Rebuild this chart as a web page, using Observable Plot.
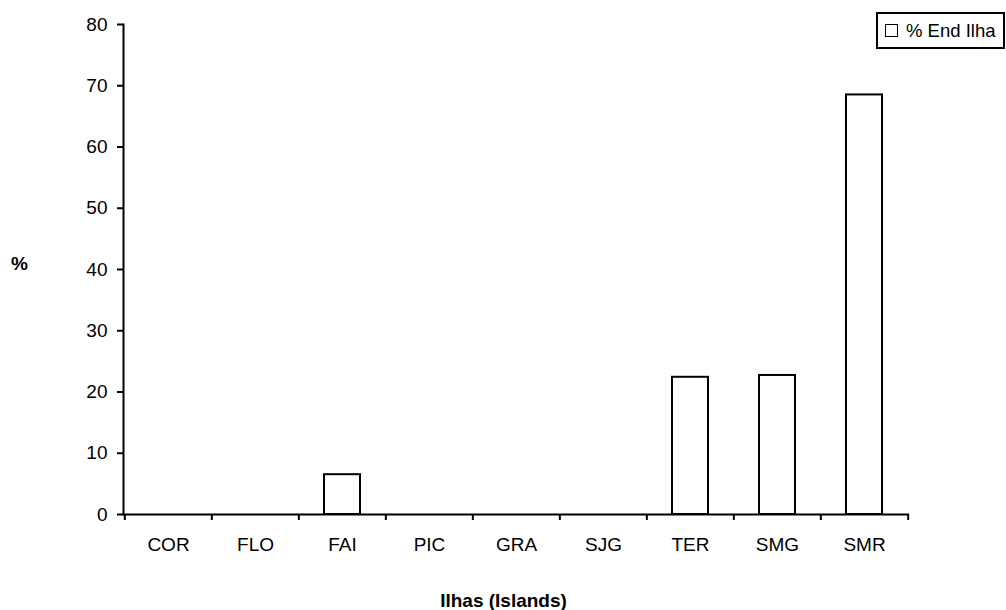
<!DOCTYPE html>
<html>
<head>
<meta charset="utf-8">
<script src="https://cdn.jsdelivr.net/npm/d3@7"></script>
<script src="https://cdn.jsdelivr.net/npm/@observablehq/plot@0.6"></script>
<style>
  html, body { margin: 0; padding: 0; background: #fff; }
  #wrap { position: relative; width: 1006px; height: 610px; font-family: "Liberation Sans", Arial, sans-serif; }
  #legend { position: absolute; left: 876px; top: 12px; width: 125px; height: 33px; border: 2px solid #000; background: #fff;
            display: flex; align-items: center; font-size: 18.5px; color: #000; }
  #legend .sw { width: 11px; height: 11px; border: 1.5px solid #000; margin-left: 7px; margin-right: 8px; background: #fff; }
</style>
</head>
<body>
<div id="wrap">
  <div id="chart"></div>
  <div id="legend"><div class="sw"></div><span id="legtext"></span></div>
</div>
<script>
const islands = ["COR", "FLO", "FAI", "PIC", "GRA", "SJG", "TER", "SMG", "SMR"];
const pctEndIlha = [0, 0, 6.5, 0, 0, 0, 22.4, 22.7, 68.5];
const yTicks = [0, 10, 20, 30, 40, 50, 60, 70, 80];
const seriesName = "% End Ilha";
const xTitle = "Ilhas (Islands)";
const yTitle = "%";

const data = islands.map((d, i) => ({island: d, value: pctEndIlha[i]}));

const W = 1006, H = 610, ML = 123, MR = 97, MT = 24, MB = 96;
const step = (W - ML - MR) / islands.length;

const chart = Plot.plot({
  width: W, height: H,
  marginLeft: ML, marginRight: MR, marginTop: MT, marginBottom: MB,
  style: {fontFamily: "'Liberation Sans', Arial, sans-serif", fontSize: "19px", color: "#000", background: "#fff"},
  x: {domain: islands, paddingInner: 0.59, paddingOuter: 0.295, label: null},
  y: {domain: [0, 80], label: null},
  marks: [
    Plot.barY(data, {x: "island", y: "value", fill: "#fff", stroke: "#000", strokeWidth: 2}),
    Plot.axisY({ticks: yTicks, tickSize: 6, tickPadding: 10, strokeWidth: 2, fontSize: 19, label: null}),
    Plot.axisX({tickSize: 0, tickPadding: 23, fontSize: 19, label: null}),
    Plot.frame({anchor: "left", strokeWidth: 2}),
    Plot.ruleY([0], {strokeWidth: 2}),
    Plot.ruleX(islands, {x: d => d, y1: 0, y2: 0, insetBottom: -6, strokeWidth: 2, dx: -step / 2}),
    Plot.ruleX(islands.slice(-1), {x: d => d, y1: 0, y2: 0, insetBottom: -6, strokeWidth: 2, dx: step / 2}),
    Plot.text([yTitle], {frameAnchor: "left", textAnchor: "middle", lineAnchor: "middle", dx: -104, dy: -6, fontWeight: "bold", fontSize: 19, text: d => d}),
    Plot.text([xTitle], {frameAnchor: "bottom", textAnchor: "middle", lineAnchor: "middle", dx: -13, dy: 86, fontWeight: "bold", fontSize: 19, letterSpacing: "1px", text: d => d})
  ]
});
document.getElementById("chart").appendChild(chart);
document.getElementById("legtext").textContent = seriesName;
</script>
</body>
</html>
